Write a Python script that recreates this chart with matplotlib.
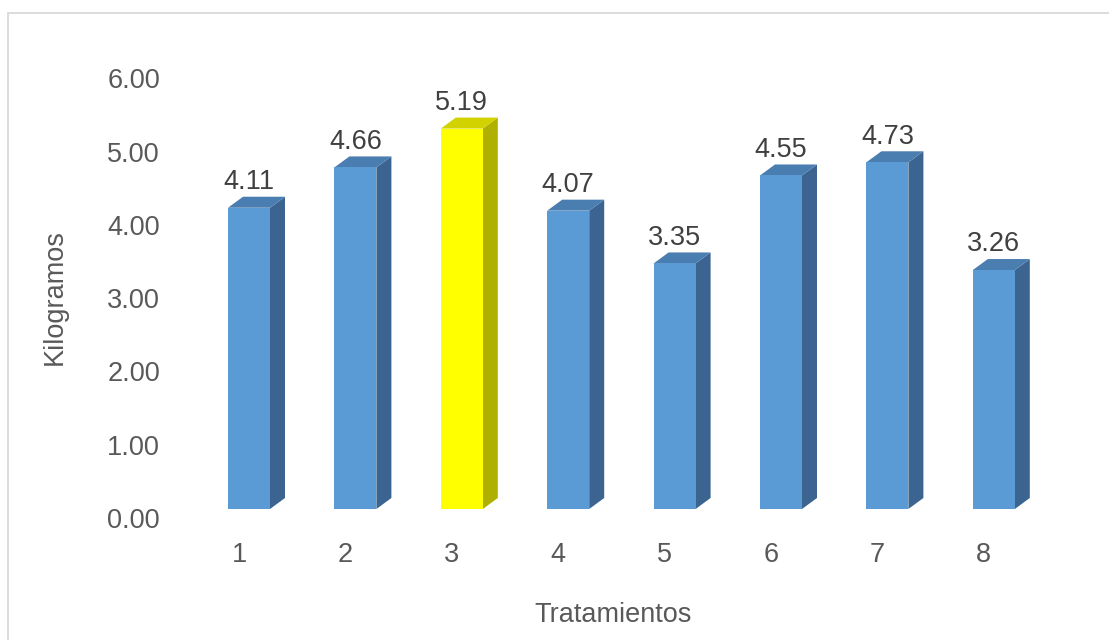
import matplotlib
matplotlib.use("Agg")
import matplotlib.pyplot as plt
from matplotlib.patches import Polygon, Rectangle

plt.rcParams['font.family'] = ['Liberation Sans', 'DejaVu Sans']

categories = ["1", "2", "3", "4", "5", "6", "7", "8"]
values = [4.11, 4.66, 5.19, 4.07, 3.35, 4.55, 4.73, 3.26]
highlight = [False, False, True, False, False, False, False, False]
ytick_values = [0, 1, 2, 3, 4, 5, 6]
ytick_labels = ["0.00", "1.00", "2.00", "3.00", "4.00", "5.00", "6.00"]

W, H = 1109, 640
FS = 19.5
fig = plt.figure(figsize=(W / 100, H / 100), dpi=100)

# pixel geometry
L, R, T, B = 180, 1090, 60, 530
x0_px, step_px = 249, 106.4      # category 1 front centre, spacing
base_px, unit_px = 509, 73.3     # front baseline, px per unit

ax = fig.add_axes([L / W, (H - B) / H, (R - L) / W, (B - T) / H])
ax.set_xlim(1 + (L - x0_px) / step_px, 1 + (R - x0_px) / step_px)
ax.set_ylim((base_px - B) / unit_px, (base_px - T) / unit_px)
for s in ax.spines.values():
    s.set_visible(False)

bw = 42 / step_px
dx = 15 / step_px
dy = 11 / unit_px

blue = ("#5B9BD5", "#4A7DB0", "#3B6590")
yellow = ("#FFFF00", "#D2D200", "#B0B000")

for i, (v, hl) in enumerate(zip(values, highlight)):
    xc = i + 1
    front, top, side = yellow if hl else blue
    xl, xr = xc - bw / 2, xc + bw / 2
    ax.add_patch(Polygon([(xr, 0), (xr + dx, dy), (xr + dx, v + dy), (xr, v)],
                         closed=True, facecolor=side, edgecolor='none'))
    ax.add_patch(Polygon([(xl, v), (xr, v), (xr + dx, v + dy), (xl + dx, v + dy)],
                         closed=True, facecolor=top, edgecolor='none'))
    ax.add_patch(Rectangle((xl, 0), bw, v, facecolor=front, edgecolor='none'))
    ax.annotate(f"{v:.2f}", (xc, v), xytext=(0, 18.5), textcoords='offset points',
                ha='center', va='center', fontsize=FS, color='#404040')

# ticks (labels sit slightly below the front plane as in the reference)
yoff = 9 / unit_px
ax.set_yticks([t - yoff for t in ytick_values])
ax.set_yticklabels(ytick_labels)
xoff = 10 / step_px
ax.set_xticks([i + 1 - xoff for i in range(len(categories))])
ax.set_xticklabels(categories)
ax.tick_params(axis='both', length=0, labelsize=FS, labelcolor='#595959')
ax.tick_params(axis='y', pad=20 * 0.72)
ax.tick_params(axis='x', pad=12 * 0.72)

fig.text(55 / W, 1 - 297 / H, "Kilogramos", rotation=90, ha='center', va='center',
         fontsize=FS, color='#595959')
fig.text(613 / W, 1 - 615 / H, "Tratamientos", ha='center', va='center',
         fontsize=FS, color='#595959')

# outer frame
fig.patches.append(Rectangle((8 / W, -0.1), 1.2, 1 - 13 / H + 0.1,
                             transform=fig.transFigure, fill=False,
                             edgecolor='#D9D9D9', linewidth=1.3))

fig.savefig("out.png", dpi=100)
